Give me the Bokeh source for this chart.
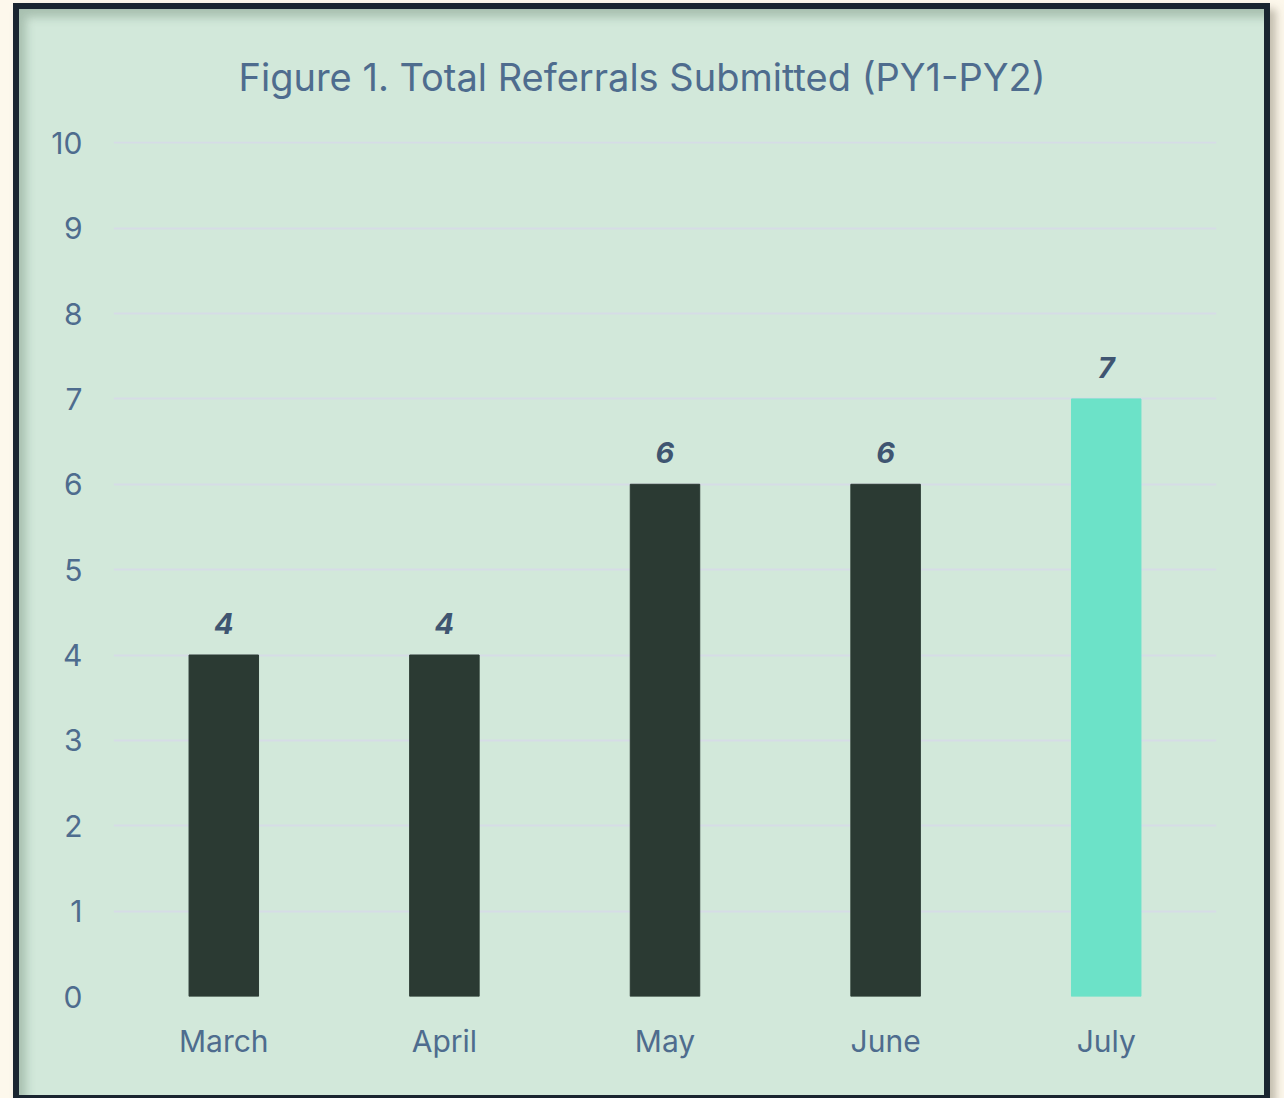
from bokeh.plotting import figure
from bokeh.models import ColumnDataSource, LabelSet, Range1d, FactorRange
from bokeh.core.properties import value
from bokeh.embed import file_html
from bokeh.resources import INLINE

# ---- data ----
months = ["March", "April", "May", "June", "July"]
referrals = [4, 4, 6, 6, 7]
y_ticks = list(range(0, 11))
title_text = "Figure 1. Total Referrals Submitted (PY1-PY2)"

# ---- styles ----
DARK = "#2b3a33"
TEAL = "#6ce2c8"
GREEN_BG = "#d2e8da"
TEXT_BLUE = "#4e6c8e"
LABEL_COL = "#3f5571"
GRID = "#d6dce6"
FONT = "Inter"

colors = [DARK] * (len(months) - 1) + [TEAL]
src = ColumnDataSource(dict(month=months, value=referrals, color=colors,
                            label=[str(v) for v in referrals]))

W, H = 1245, 1086
p = figure(x_range=FactorRange(*months), y_range=Range1d(0, 10.015),
           width=W, height=H, output_backend="svg", toolbar_location=None,
           min_border_left=94, min_border_right=60, min_border_top=130,
           min_border_bottom=111,
           title=title_text)
p.title.align = "left"
p.title.offset = 125
p.title.text_font = FONT
p.title.text_font_size = "38px"
p.title.text_font_style = "normal"
p.title.text_color = TEXT_BLUE
p.title.standoff = 84
p.border_fill_alpha = 0
p.background_fill_alpha = 0
p.outline_line_color = None
p.styles = {
    "border": "6px solid #1a2530",
    "background-color": GREEN_BG,
    "box-shadow": "inset 9px 10px 10px -2px rgba(60,90,70,0.28), 6px 6px 8px rgba(90,80,60,0.35)",
    "box-sizing": "content-box",
    "margin-left": "13px",
    "margin-top": "3px",
}

p.vbar(x="month", top="value", width=0.315, color="color", source=src)

labels = LabelSet(x="month", y="value", text="label", source=src,
                  text_align="center", text_baseline="alphabetic", y_offset=21,
                  text_font=value("Inter"), text_font_size=value("29px"),
                  text_font_style=value("bold italic"),
                  text_color=LABEL_COL)
p.add_layout(labels)

p.xgrid.grid_line_color = None
p.ygrid.grid_line_color = GRID
p.ygrid.grid_line_width = 2
p.yaxis.ticker = y_ticks

for ax in (p.xaxis, p.yaxis):
    ax.axis_line_color = None
    ax.major_tick_line_color = None
    ax.minor_tick_line_color = None
    ax.major_tick_in = 0
    ax.major_tick_out = 0
    ax.major_label_text_font = FONT
    ax.major_label_text_font_size = "30px"
    ax.major_label_text_color = TEXT_BLUE
p.yaxis.major_label_standoff = 31
p.xaxis.major_label_standoff = 26

html = file_html(p, INLINE)
html = html.replace("</head>", "<style>html, body { background-color: #fdf8ec !important; }</style></head>", 1)
open("out.html", "w").write(html)
